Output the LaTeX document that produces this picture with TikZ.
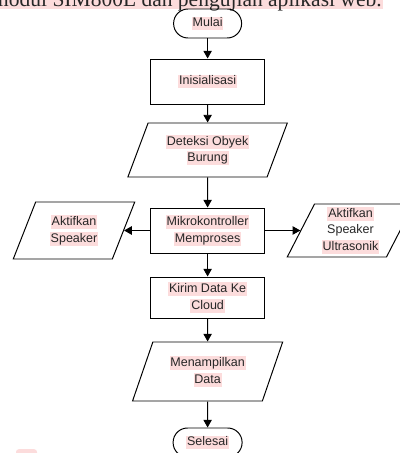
\documentclass[tikz,border=0pt]{standalone}
\usepackage{fontspec}
\setmainfont{Liberation Sans}
\newfontfamily\pageserif{Liberation Serif}
\usetikzlibrary{shapes.geometric,arrows.meta}

\definecolor{hlpink}{HTML}{FCDCDC}
\newcommand{\pinkhl}[1]{{\setlength{\fboxsep}{0.6pt}\colorbox{hlpink}{\rule[-0.22em]{0pt}{0.98em}#1}}}
\def\flowfont{\fontsize{8.9}{11.6}\selectfont}

\tikzstyle{terminal} = [draw, rounded corners=3.6mm, minimum width=1.7cm,
    minimum height=0.725cm, inner sep=0pt, font=\flowfont]
\tikzstyle{process} = [draw, minimum width=2.85cm, minimum height=1.025cm,
    align=center, inner sep=0pt, font=\flowfont]
\tikzstyle{io} = [draw, trapezium, trapezium left angle=65, trapezium right angle=115,
    trapezium stretches=true, align=center, inner sep=0pt, font=\flowfont]
\tikzstyle{flow} = [draw, -{Triangle[length=5.5pt,width=6pt]}]

\begin{document}
\begin{tikzpicture}[line width=0.7pt, text=black!85]
    \useasboundingbox (0,0) rectangle (10,-11.325);
    \clip (0,0) rectangle (10,-11.325);

    % cut-off line of the page above the chart
    \node (pagetext) [anchor=base east, fill=hlpink, inner sep=0.6pt, text depth=0.035cm,
        font=\pageserif\fontsize{15.3}{18}\selectfont]
        at (9.575,-0.165) {modul SIM800L dan pengujian aplikasi web.\hspace{3pt}};

    \node (mulai) [terminal] at (5.19,-0.5875) {\pinkhl{Mulai}};
    \path (mulai.center)+(0,-1.45) node (init) [process, minimum height=1.125cm] {\pinkhl{Inisialisasi}};
    \path (init.center)+(0,-1.7125) node (deteksi) [io, minimum width=4.0cm, minimum height=1.35cm]
        {\pinkhl{Deteksi Obyek}\\\pinkhl{Burung}};
    \path (deteksi.center)+(0,-2.0125) node (mikro) [process, minimum height=1.125cm]
        {\pinkhl{Mikrokontroller}\\\pinkhl{Memproses}};
    \path (mikro.center)+(-3.34,0) node (speaker) [io, minimum width=3.05cm, minimum height=1.425cm]
        {\pinkhl{Aktifkan}\\\pinkhl{Speaker}};
    \path (mikro.center)+(3.5725,0) node (ultra) [io, minimum width=3.175cm, minimum height=1.325cm]
        {\pinkhl{Aktifkan}\\Speaker\\\pinkhl{Ultrasonik}};
    \path (mikro.center)+(0,-1.675) node (kirim) [process]
        {\pinkhl{Kirim Data Ke}\\\pinkhl{Cloud}};
    \path (kirim.center)+(0,-1.85) node (tampil) [io, minimum width=3.775cm, minimum height=1.475cm]
        {\pinkhl{Menampilkan}\\\pinkhl{Data}};
    \path (tampil.center)+(0,-1.775) node (selesai) [terminal, minimum width=1.725cm] {\pinkhl{Selesai}};

    \path [flow] (mulai) -- (init);
    \path [flow] (init) -- (deteksi);
    \path [flow] (deteksi) -- (mikro);
    \path [flow] (mikro) -- (speaker);
    \path [flow] (mikro) -- (ultra);
    \path [flow] (mikro) -- (kirim);
    \path [flow] (kirim) -- (tampil);
    \path [flow] (tampil) -- (selesai);

    % highlight peeking in at the lower left corner
    \fill [hlpink, rounded corners=2pt] (0.4,-11.23) rectangle (0.925,-11.6);
\end{tikzpicture}
\end{document}
